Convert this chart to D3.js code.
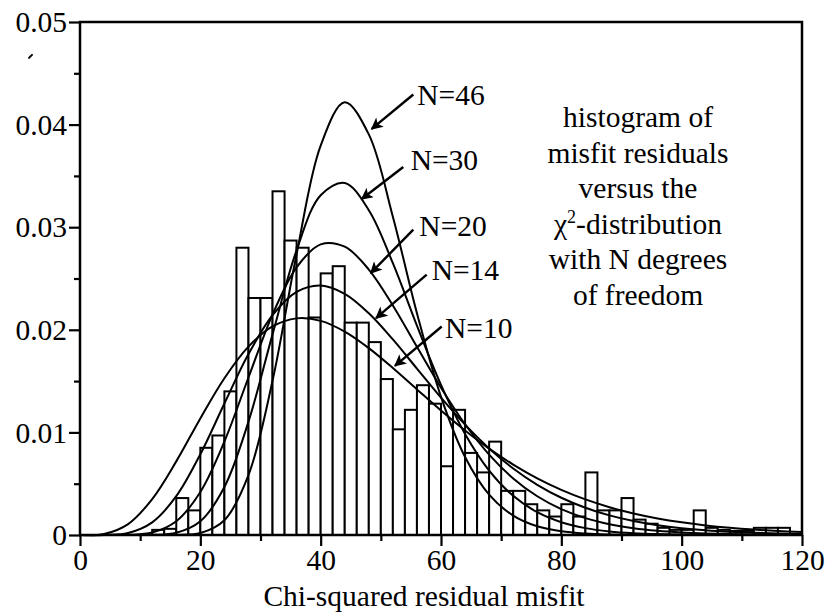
<!DOCTYPE html>
<html>
<head>
<meta charset="utf-8">
<script src="https://cdn.jsdelivr.net/npm/d3@7"></script>
<style>
  html, body { margin: 0; padding: 0; background: #fff; }
  svg { display: block; }
  svg text { font-family: 'Liberation Serif', 'Times New Roman', Times, 'DejaVu Serif', serif !important; fill: #000; }
</style>
</head>
<body>
<svg id="chart" width="827" height="616"></svg>
<script>
// ---------- data ----------
const binLeft = [12,14,16,18,20,22,24,26,28,30,32,34,36,38,40,42,44,46,48,50,52,54,56,58,60,62,64,66,68,70,72,74,76,78,80,82,84,86,88,90,92,94,96,98,100,102,104,106,108,110,112,114,116];
const binValue = [0.0005,0.0006,0.0036,0.0024,0.0085,0.0097,0.0140,0.0280,0.0231,0.0231,0.0335,0.0287,0.0280,0.0212,0.0255,0.0262,0.0207,0.0207,0.0188,0.0152,0.0103,0.0122,0.0146,0.0128,0.0067,0.0122,0.0080,0.0061,0.0091,0.0043,0.0043,0.0030,0.0024,0.0018,0.0030,0.0018,0.0061,0.0024,0.0024,0.0036,0.0015,0.0011,0.0007,0.0005,0.0005,0.0024,0.0007,0.0005,0.0004,0.0004,0.0007,0.0007,0.0007];
const binWidth = 2;

const curveX = [0,4,8,12,16,20,24,28,32,36,40,44,48,52,56,60,64,68,72,76,80,84,88,92,96,100,104,108,112,116,120];
const chiN10 = [0,0.000103,0.001066,0.003501,0.007176,0.011363,0.015283,0.018365,0.020322,0.021113,0.020873,0.019822,0.018210,0.016268,0.014193,0.012132,0.010187,0.008420,0.006865,0.005527,0.004402,0.003471,0.002712,0.002101,0.001615,0.001234,0.000936,0.000706,0.000530,0.000395,0.000294];
const chiN14 = [0,0.000006,0.000199,0.001234,0.003782,0.007870,0.012818,0.017631,0.021431,0.023700,0.024327,0.023509,0.021614,0.019060,0.016218,0.013385,0.010753,0.008440,0.006487,0.004895,0.003632,0.002655,0.001915,0.001364,0.000960,0.000669,0.000462,0.000316,0.000214,0.000144,0.000097];
const chiN20 = [0,0,0.000015,0.000239,0.001340,0.004198,0.009113,0.015352,0.021484,0.026089,0.028331,0.028105,0.025874,0.022372,0.018338,0.014356,0.010796,0.007838,0.005516,0.003775,0.002520,0.001645,0.001052,0.000660,0.000407,0.000248,0.000148,0.000088,0.000051,0.000030,0.000017];
const chiN30 = [0,0,0,0.000014,0.000215,0.001336,0.004679,0.011050,0.019554,0.027756,0.033110,0.034309,0.031656,0.026489,0.020401,0.014626,0.009851,0.006283,0.003816,0.002219,0.001242,0.000671,0.000351,0.000179,0.000088,0.000043,0.000020,0.000010,0.000004,0.000002,0.000001];
const chiN46 = [0,0,0,0,0.000010,0.000191,0.001439,0.005835,0.015031,0.027387,0.037959,0.042183,0.039052,0.031027,0.021618,0.013465,0.007603,0.003938,0.001892,0.000848,0.000358,0.000143,0.000054,0.000020,0.000007,0.000002,0.000001,0,0,0,0];

const seriesNames = ["N=10","N=14","N=20","N=30","N=46"];
const seriesValues = [chiN10, chiN14, chiN20, chiN30, chiN46];

const xTickValues = [0,10,20,30,40,50,60,70,80,90,100,110,120];
const xTickLabels = ["0","","20","","40","","60","","80","","100","","120"];
const yTickValues = [0,0.005,0.01,0.015,0.02,0.025,0.03,0.035,0.04,0.045,0.05];
const yTickLabels = ["0","","0.01","","0.02","","0.03","","0.04","","0.05"];

const xTitle = "Chi-squared residual misfit";
const noteLines = ["histogram of","misfit residuals","versus the","χ2-distribution","with N degrees","of freedom"];

// label anchors and arrow ends, in data units
const labelX   = [60.66, 58.45, 56.4, 54.96, 56.06];
const labelY   = [0.01922, 0.02488, 0.02917, 0.03561, 0.04188];
const arrowX0  = [60.12, 57.62, 55.4, 53.73, 55.4];
const arrowY0  = [0.02032, 0.02537, 0.02976, 0.03587, 0.04293];
const arrowX1  = [52.35, 49.2, 48.32, 46.82, 48.48];
const arrowY1  = [0.01649, 0.02114, 0.02553, 0.03275, 0.03958];

// ---------- layout ----------
const svg = d3.select("#chart");
const mL = 80, mR = 802, mT = 22, mB = 535;
const FS = 29.5;
const FONT = "'Liberation Serif', 'Times New Roman', Times, serif";

const x = d3.scaleLinear().domain([0,120]).range([mL, mR]);
const y = d3.scaleLinear().domain([0,0.05]).range([mB, mT]);

// histogram
svg.append("g").selectAll("rect")
  .data(binLeft.map((b,i)=>({b, v: binValue[i]})))
  .join("rect")
  .attr("x", d => x(d.b))
  .attr("width", d => x(d.b + binWidth) - x(d.b))
  .attr("y", d => y(d.v))
  .attr("height", d => y(0) - y(d.v))
  .attr("fill", "#fff")
  .attr("stroke", "#000")
  .attr("stroke-width", 2);

// curves
const line = d3.line().x((d,i)=>x(curveX[i])).y(d=>y(d)).curve(d3.curveCatmullRom.alpha(0.5));
svg.append("g").selectAll("path")
  .data(seriesValues)
  .join("path")
  .attr("d", d => line(d))
  .attr("fill", "none")
  .attr("stroke", "#000")
  .attr("stroke-width", 2);

// frame
svg.append("rect")
  .attr("x", mL).attr("y", mT)
  .attr("width", mR-mL).attr("height", mB-mT)
  .attr("fill", "none").attr("stroke", "#000").attr("stroke-width", 2.5);

// x axis
const xAxis = d3.axisBottom(x).tickValues(xTickValues)
  .tickSizeOuter(0)
  .tickSize(11)
  .tickFormat((d,i)=>xTickLabels[i]);
const gx = svg.append("g").attr("transform", `translate(0,${mB})`).call(xAxis)
  .attr("font-family", FONT).attr("font-size", FS);
gx.select(".domain").remove();
gx.selectAll(".tick line").attr("stroke","#000").attr("stroke-width",2.2)
  .attr("y2", (d,i)=> xTickLabels[i] === "" ? 6 : 11);
gx.selectAll(".tick text").attr("y", 14).attr("dy", "0.71em");

// y axis
const yAxis = d3.axisLeft(y).tickValues(yTickValues)
  .tickSizeOuter(0)
  .tickSize(11)
  .tickFormat((d,i)=>yTickLabels[i]);
const gy = svg.append("g").attr("transform", `translate(${mL},0)`).call(yAxis)
  .attr("font-family", FONT).attr("font-size", FS);
gy.select(".domain").remove();
gy.selectAll(".tick line").attr("stroke","#000").attr("stroke-width",2.2)
  .attr("x2", (d,i)=> yTickLabels[i] === "" ? -6 : -11);
gy.selectAll(".tick text").attr("x", -13).attr("dy", "0.33em");

// stray tick mark near top-left of the y axis (as in the source figure)
svg.append("path")
  .attr("d", `M${mL-51},${y(0.0465)} l3,-3`)
  .attr("stroke","#000").attr("stroke-width",2).attr("stroke-linecap","round");

// x title
svg.append("text")
  .attr("x", 424).attr("y", 606)
  .attr("text-anchor","middle").attr("font-size", FS)
  .text(xTitle);

// note text
const note = svg.append("text").attr("text-anchor","middle").attr("font-size", FS);
noteLines.forEach((s,i) => {
  const t = note.append("tspan").attr("x", 638).attr("y", 127 + i*35.6);
  if (s.startsWith("χ2")) {
    t.text("χ");
    note.append("tspan").attr("font-size", 18).attr("dy", -11).text("2");
    note.append("tspan").attr("dy", 11).text(s.slice(2));
  } else {
    t.text(s);
  }
});

// arrows
const defs = svg.append("defs");
defs.append("marker").attr("id","ah")
  .attr("viewBox","0 0 10 10").attr("refX",9).attr("refY",5)
  .attr("markerWidth",14).attr("markerHeight",12)
  .attr("markerUnits","userSpaceOnUse")
  .attr("orient","auto")
  .append("path").attr("d","M0,0 L10,5 L0,10 L2.5,5 Z").attr("fill","#000");

const ann = svg.append("g");
seriesNames.forEach((name,i) => {
  ann.append("line")
    .attr("x1", x(arrowX0[i])).attr("y1", y(arrowY0[i]))
    .attr("x2", x(arrowX1[i])).attr("y2", y(arrowY1[i]))
    .attr("stroke","#000").attr("stroke-width",2.4)
    .attr("marker-end","url(#ah)");
  ann.append("text")
    .attr("x", x(labelX[i])).attr("y", y(labelY[i]))
    .attr("font-size", FS)
    .text(name);
});
</script>
</body>
</html>
